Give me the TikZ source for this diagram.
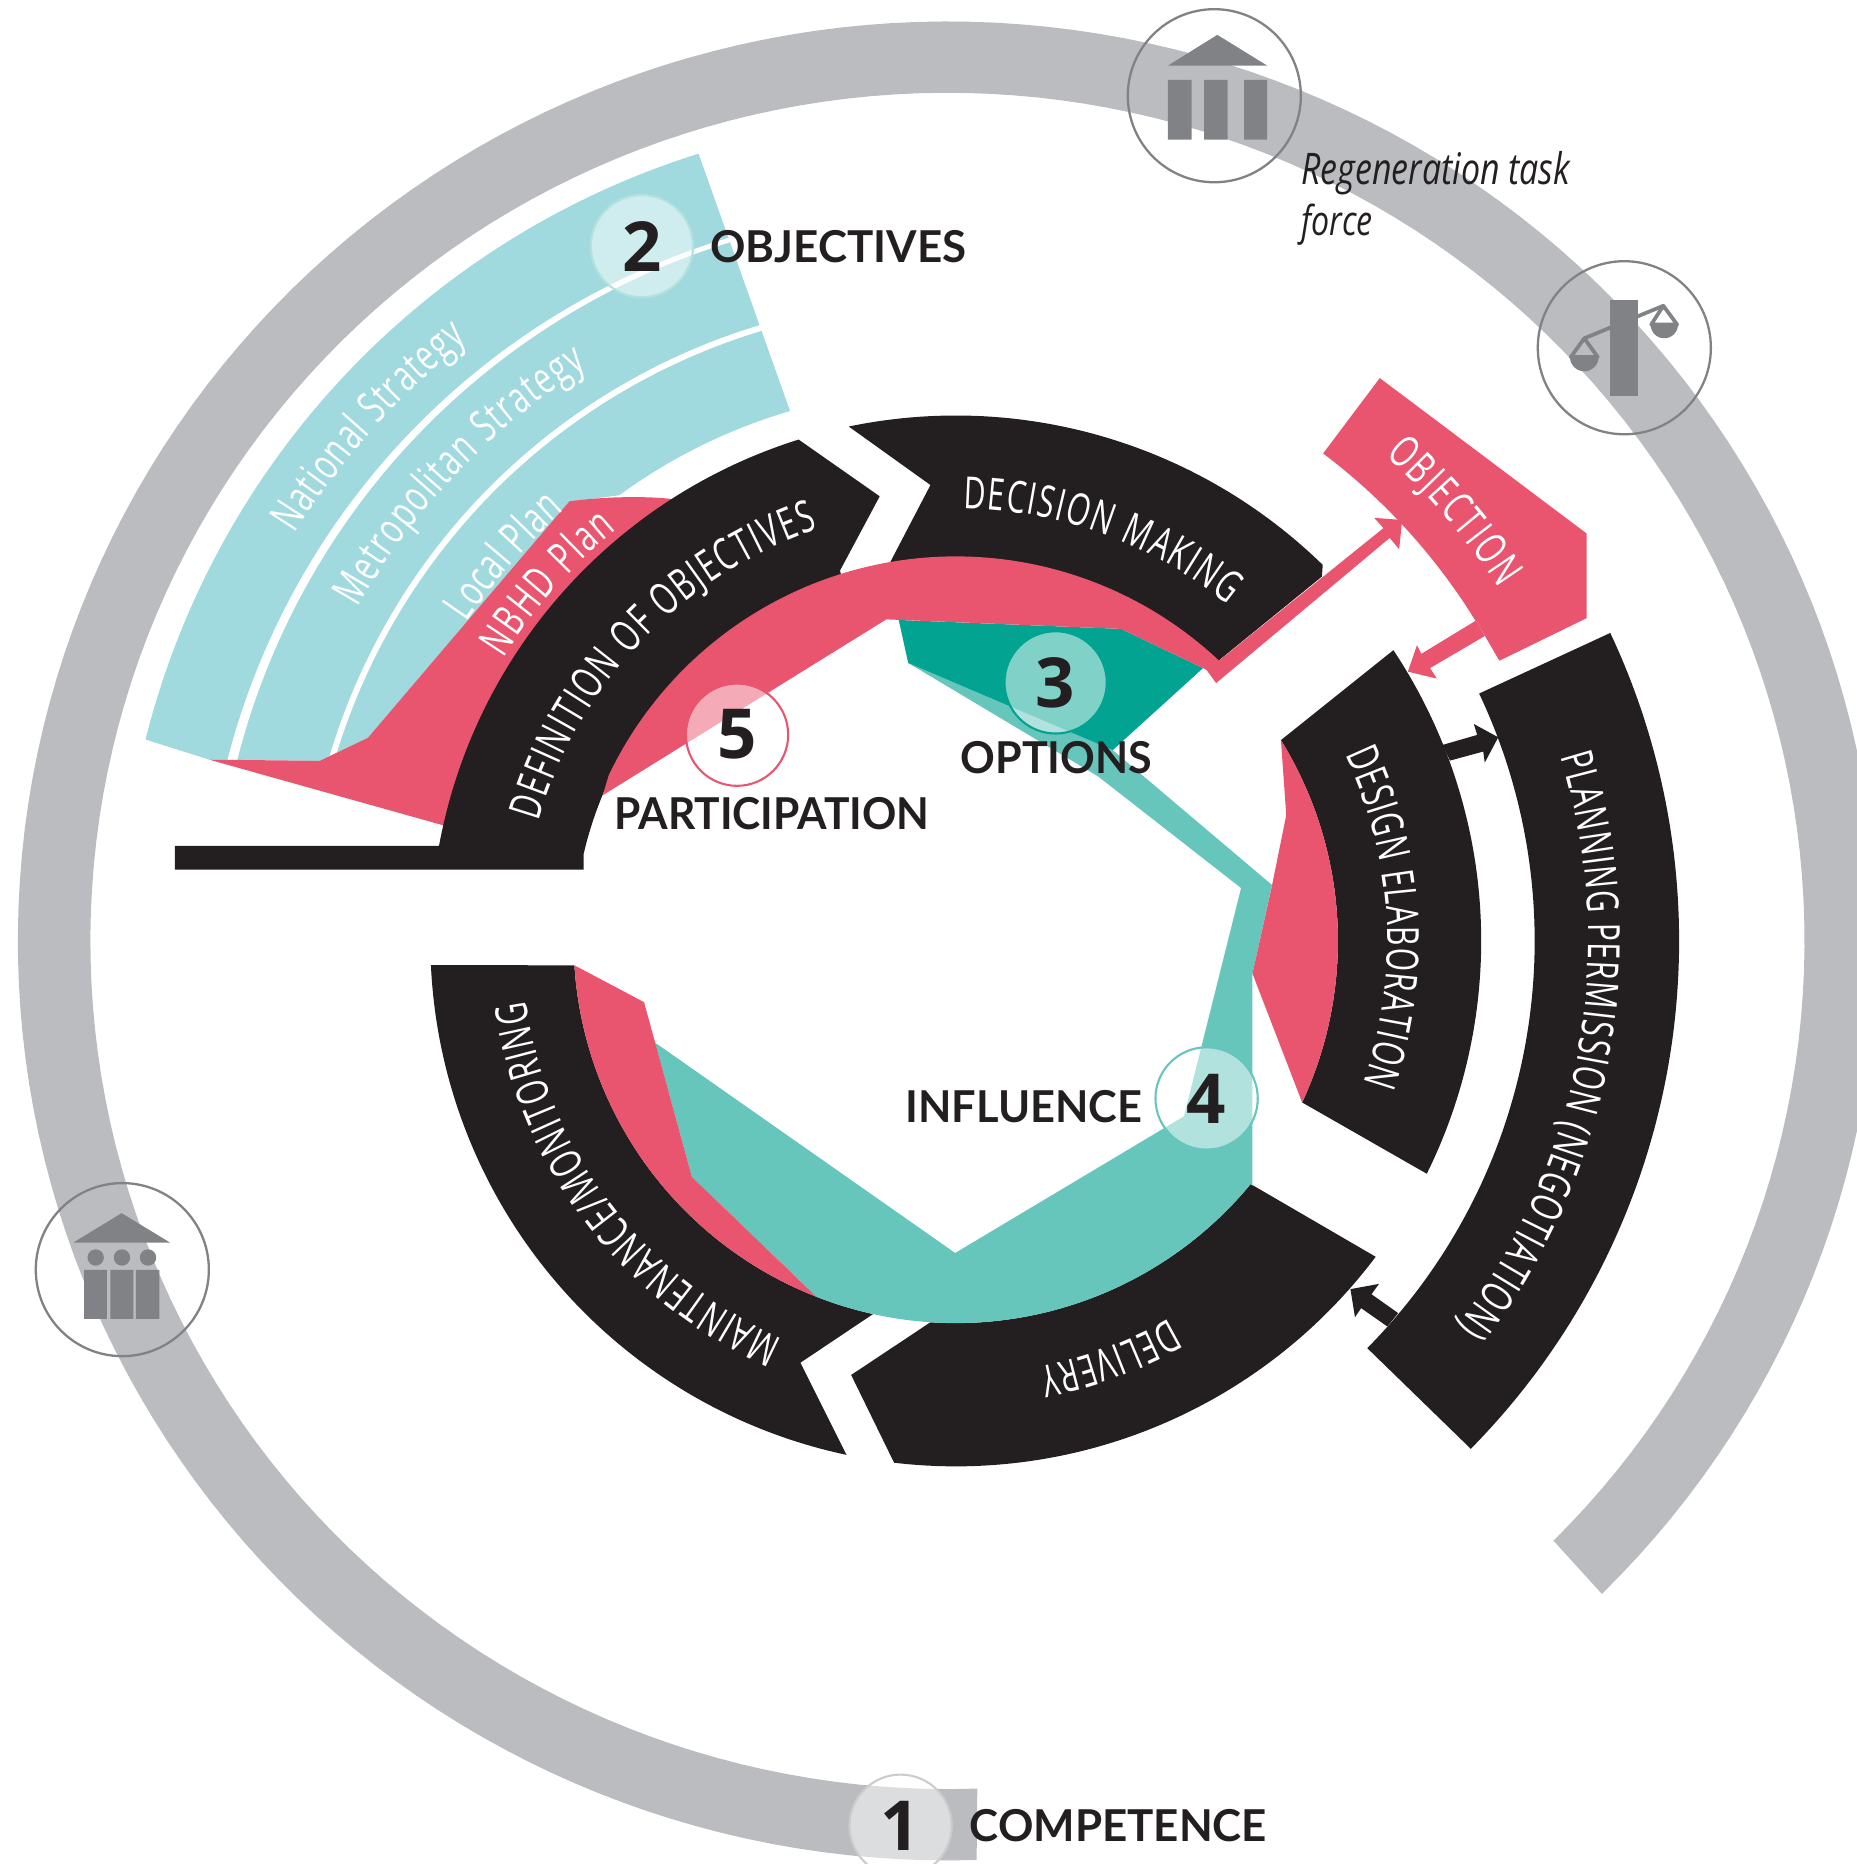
\documentclass[tikz,border=0pt]{standalone}
\usepackage{fontspec}
\usepackage{graphicx}
\usetikzlibrary{decorations.text}
\setmainfont{Open Sans}
\newfontfamily\condfam[FakeStretch=0.68]{Open Sans}
\newfontfamily\itfam[FakeStretch=0.78]{Open Sans}
\newfontfamily\labfam{Lato}
\newfontfamily\digfam{Open Sans}
\newcommand{\cf}{\condfam\fontsize{10.6}{12}\selectfont}
\definecolor{ringgrey}{HTML}{BABCC0}
\definecolor{icongrey}{HTML}{808285}
\definecolor{blk}{HTML}{231F20}
\definecolor{pnk}{HTML}{E9556F}
\definecolor{blu}{HTML}{A0D9DE}
\definecolor{dteal}{HTML}{02A390}
\definecolor{lteal}{HTML}{66C6BC}
% arc about the inner ring's centre: \rarc starts a path, \Rarc continues one
\newcommand{\rarc}[3]{plot[domain=#2:#3,samples=100] ({804+#1*cos(\x)},{791.5+#1*sin(\x)})}
\newcommand{\Rarc}[3]{-- plot[domain=#2:#3,samples=100] ({804+#1*cos(\x)},{791.5+#1*sin(\x)})}
% arc about the blue fan's centre
\newcommand{\barc}[3]{plot[domain=#2:#3,samples=100] ({795+#1*cos(\x)},{791+#1*sin(\x)})}
\newcommand{\Barc}[3]{-- plot[domain=#2:#3,samples=100] ({795+#1*cos(\x)},{791+#1*sin(\x)})}
\newcommand{\curvetext}[6]{%
  \path[decorate,decoration={text along path,text color=white,text align={fit to path},
    text={|\cf|#6}}] plot[domain=#4:#5,samples=100] ({#1+#3*cos(\x)},{#2+#3*sin(\x)});}
\tikzset{
  numcirc/.style={circle,minimum size=0.86cm,inner sep=0pt,fill=white,fill opacity=0.5,
    text opacity=1,draw opacity=1,line width=0.5pt,text=blk,
    font=\digfam\bfseries\fontsize{16.5}{18}\selectfont},
  iconcirc/.style={circle,draw=icongrey,line width=0.55pt,minimum size=1.455cm,inner sep=0pt},
  lab/.style={anchor=base west,inner sep=0pt,text=blk,font=\labfam\bfseries},
  itlab/.style={anchor=base west,inner sep=0pt,text=blk}
}
\begin{document}
\begin{tikzpicture}[x=0.01cm,y=-0.01cm]
\useasboundingbox (0,0) rectangle (1562.1,1568);
\clip (0,0) rectangle (1562.1,1568);
% outer grey ring
\fill[ringgrey] plot[domain=88.2:405.25,samples=200] ({797+782*cos(\x)},{791.5+773.5*sin(\x)}) -- plot[domain=405:88,samples=200] ({797+721*cos(\x)},{791.5+713.5*sin(\x)}) -- cycle;
% blue fan
\fill[blu] \barc{693.5}{194.1}{252.6} -- (664,344) \Barc{464}{253.7}{233.8} -- (479,422) -- (309.5,620.6) -- (269,640) -- (176,639) -- cycle;
\fill[white] plot[domain=193.5:253,samples=100] ({795+(622.5-4*(\x-194)/58)*cos(\x)},{791+(622.5-4*(\x-194)/58)*sin(\x)}) \Barc{614.5}{253}{193.5} -- cycle;
\fill[white] \barc{540.5}{196}{254.5} \Barc{535.5}{254.5}{196} -- cycle;
% pink behind the definition band
\fill[pnk] (176,639) -- (269,640) -- (309.5,620.6) -- (479,421.7) .. controls (505,418) and (540,417) .. (564,419.6) \Rarc{440}{237.2}{192.7} -- cycle;
% black bands
\fill[blk] (147,711.5) -- (369,711.5) \Rarc{442}{190.5}{252.6} -- (740,417.5) -- (706.6,480) \Rarc{321.5}{252.6}{193.2} -- (491,731.5) -- (147,731.5) -- cycle;
\fill[blk] \rarc{442}{258.25}{314.3} -- (1112,485) -- (1026.5,554.5) \Rarc{322}{313.2}{260} -- (782.7,408) -- cycle;
\fill[blk] \rarc{442}{-33.6}{26.3} \Rarc{321.5}{25}{-31.7} -- cycle;
\fill[blk] \rarc{608.5}{-25.2}{44.6} \Rarc{487}{44.7}{-25.3} -- cycle;
\fill[blk] \rarc{442}{36.95}{96.74} -- (716,1156.6) \Rarc{321.5}{93.8}{39.5} -- cycle;
\fill[blk] \rarc{442}{102}{177.35} \Rarc{321.5}{176.35}{102.5} -- (673.3,1146.3) -- cycle;
% black arrows
\fill[blk] (1213.5,626.6) -- (1242.6,618.2) -- (1239.8,609) -- (1260.3,620.2) -- (1249,641.5) -- (1247.7,632.2) -- (1219.7,639.8) -- cycle;
\fill[blk] (1176.2,1104.6) -- (1153.7,1088.7) -- (1160,1080) -- (1136,1084.4) -- (1139.8,1108) -- (1145,1100.4) -- (1167,1115.8) -- cycle;
% teal
\fill[lteal] (764,557.7) -- (936,631) -- (1070,744.4) -- (1053.6,819) -- (1053.6,997.6) \Rarc{321.5}{39.5}{111.4} -- (582,990) -- (551,877) -- (803.5,1054) -- (996,939) -- (1044,747) -- (923.6,653) -- cycle;
\fill[dteal] (756,521.5) -- (943,529) -- (1012,562) -- (936,631) -- (764,557.7) -- cycle;
% pink shapes
\fill[pnk] (507,669) \Rarc{323.5}{205.5}{313.2} -- (1163.8,444.2) -- (1156,435.6) -- (1179.5,437.4) -- (1177,462) -- (1169,452.5) -- (1023,574.6) -- (1015,563.6) -- (1012,562) -- (943,529) -- (745.6,521) -- cycle;
\fill[pnk] (1160.7,318) -- (1334.6,448.7) -- (1334.6,520) -- (1261.3,555.8) -- (1241.6,522) -- plot[domain=-31.6:-53,samples=60] ({804+513.5*cos(\x)},{791.5+513.5*sin(\x)}) -- cycle;
\fill[pnk] (1241.6,522) -- (1195.6,550) -- (1192,542.6) -- (1184.3,565) -- (1208.7,570.8) -- (1203,562) -- (1249,535) -- cycle;
\fill[pnk] \rarc{321.5}{-31.7}{25} -- (1053.6,819) -- (1070,745) -- (1082,685.6) -- cycle;
\fill[pnk] \rarc{321.5}{176.35}{111.4} -- (582,990) -- (541.8,843) -- cycle;
% curved labels
\curvetext{804}{791.5}{365}{196}{251.5}{DEFINITION OF OBJECTIVES}
\curvetext{804}{791.5}{364}{271}{309}{DECISION MAKING}
\curvetext{804}{791.5}{532}{-17}{37.5}{PLANNING PERMISSION (NEGOTIATION)}
\curvetext{804}{791.5}{363}{-25.6}{19.3}{DESIGN ELABORATION}
\curvetext{804}{791.5}{365}{60.5}{79}{DELIVERY}
\curvetext{804}{791.5}{365}{113.5}{172}{MAINTENANCE/MONITORING}
\curvetext{804}{791.5}{545}{-48.5}{-33}{OBJECTION}
\curvetext{795}{791}{645}{212}{231.5}{National Strategy}
\curvetext{795}{791}{568}{209.5}{238}{Metropolitan Strategy}
\curvetext{795}{791}{483}{213.6}{228.5}{Local Plan}
\curvetext{804}{791.5}{449}{212}{230.5}{NBHD Plan}
% icons
\node[iconcirc] (iconA) at (1021.5,80.5) {};
\fill[icongrey] (982.5,55.2) -- (1024,29.3) -- (1066,55.2) -- cycle;
\fill[icongrey] (982.5,67.2) rectangle (1002.3,117.5) (1013,67.2) rectangle (1032.7,117.5) (1046.6,67.2) rectangle (1066,117.5);
\node[iconcirc] (iconB) at (1366.4,292.5) {};
\fill[icongrey] (1354.3,252.3) rectangle (1378,333.4);
\draw[icongrey,line width=0.9pt] (1332.7,284.6) -- (1399.2,257.2);
\draw[icongrey,line width=0.9pt,line join=round] (1321.4,300.3) -- (1332.7,284.6) -- (1344,300.3) -- cycle;
\draw[icongrey,line width=0.9pt,line join=round] (1389,273) -- (1399.2,257.2) -- (1410.8,273) -- cycle;
\fill[icongrey] plot[domain=0:180,samples=30] ({1332.7+12*cos(\x)},{300.3+12*sin(\x)}) -- cycle;
\fill[icongrey] plot[domain=0:180,samples=30] ({1400+11.5*cos(\x)},{273+11.5*sin(\x)}) -- cycle;
\node[iconcirc] (iconC) at (102.9,1068) {};
\fill[icongrey] (61.7,1045.2) -- (102.3,1020.5) -- (143,1045.2) -- cycle;
\fill[icongrey] (80.5,1057.8) circle[radius=6.9] (102.6,1057.8) circle[radius=6.9] (124.5,1057.8) circle[radius=6.9];
\fill[icongrey] (70.7,1068.2) rectangle (90,1109.4) (92.8,1068.2) rectangle (112.1,1109.4) (114.4,1068.2) rectangle (134,1109.4);
% numbered circles
\node[numcirc,draw=black!20] (n1) at (757.6,1535.8) {1};
\node[numcirc,draw=lteal!50] (n2) at (540,207) {2};
\node[numcirc,draw=dteal] (n3) at (888,574) {3};
\node[numcirc,draw=lteal] (n4) at (1015,924) {4};
\node[numcirc,draw=pnk] (n5) at (620,618) {5};
% straight labels
\node[lab] (lcomp) at (815,1549) {\resizebox{2.50cm}{0.27cm}{COMPETENCE}};
\node[lab] (lobj) at (597,220.5) {\resizebox{2.15cm}{0.27cm}{OBJECTIVES}};
\node[lab] (lopt) at (807.5,651) {\resizebox{1.61cm}{0.27cm}{OPTIONS}};
\node[lab] (lpar) at (516,697.5) {\resizebox{2.65cm}{0.27cm}{PARTICIPATION}};
\node[lab] (linf) at (761,944) {\resizebox{1.99cm}{0.27cm}{INFLUENCE}};
\node[itlab] (ltask1) at (1094,155) {\resizebox{2.26cm}{!}{\itfam\itshape Regeneration task}};
\node[itlab] (ltask2) at (1094,198) {\resizebox{0.60cm}{!}{\itfam\itshape force}};
\end{tikzpicture}
\end{document}
